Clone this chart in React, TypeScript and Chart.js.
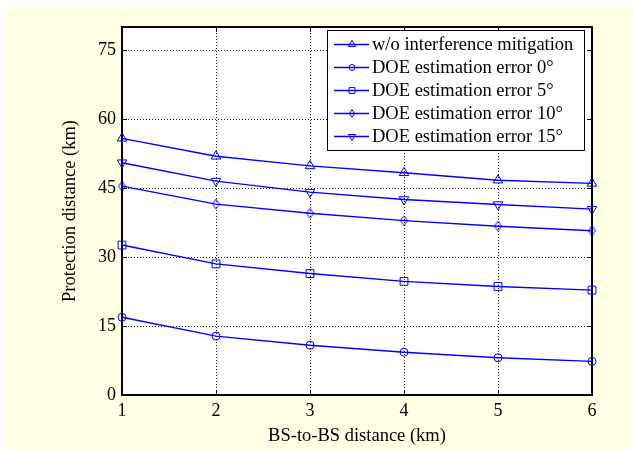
import React, { useEffect, useRef } from "react";
import { Chart, registerables } from "chart.js";

Chart.register(...registerables);

const xValues = [1, 2, 3, 4, 5, 6];
const yTicks = [0, 15, 30, 45, 60, 75];
const seriesLabels = [
  "w/o interference mitigation",
  "DOE estimation error 0°",
  "DOE estimation error 5°",
  "DOE estimation error 10°",
  "DOE estimation error 15°",
];
const noMitigation = [55.8, 51.9, 49.8, 48.3, 46.7, 46.0];
const err0 = [16.9, 12.8, 10.8, 9.3, 8.1, 7.3];
const err5 = [32.6, 28.5, 26.4, 24.7, 23.6, 22.8];
const err10 = [45.4, 41.5, 39.5, 37.9, 36.7, 35.7];
const err15 = [50.5, 46.5, 44.1, 42.5, 41.4, 40.4];

const BLUE = "#0000FF";
const FONT = "'Liberation Serif', 'Times New Roman', serif";

function diamondCanvas(w: number, h: number) {
  const c = document.createElement("canvas");
  c.width = w + 2;
  c.height = h + 2;
  const ctx = c.getContext("2d")!;
  const cx = (w + 2) / 2;
  const cy = (h + 2) / 2;
  ctx.strokeStyle = BLUE;
  ctx.lineWidth = 1;
  ctx.beginPath();
  ctx.moveTo(cx, cy - h / 2);
  ctx.lineTo(cx + w / 2, cy);
  ctx.lineTo(cx, cy + h / 2);
  ctx.lineTo(cx - w / 2, cy);
  ctx.closePath();
  ctx.stroke();
  return c;
}

const markerStyles: any[] = [
  { pointStyle: "triangle", radius: 5.5, rotation: 0 },
  { pointStyle: "circle", radius: 4, rotation: 0 },
  { pointStyle: "rect", radius: 5.5, rotation: 0 },
  { pointStyle: "diamond", radius: 5, rotation: 0 },
  { pointStyle: "triangle", radius: 5.5, rotation: 180 },
];

const allSeries = [noMitigation, err0, err5, err10, err15];

function drawMarker(ctx: any, m: any, x: number, y: number, scale: number) {
  const r = m.radius * scale;
  ctx.strokeStyle = BLUE;
  ctx.lineWidth = 1;
  ctx.beginPath();
  if (m.pointStyle === "circle") {
    ctx.arc(x, y, r, 0, Math.PI * 2);
  } else if (m.pointStyle === "rect") {
    const h = r * Math.SQRT1_2;
    ctx.rect(x - h, y - h, 2 * h, 2 * h);
  } else if (m.pointStyle === "diamond") {
    ctx.moveTo(x, y - r);
    ctx.lineTo(x + r * 0.7, y);
    ctx.lineTo(x, y + r);
    ctx.lineTo(x - r * 0.7, y);
    ctx.closePath();
  } else {
    const s = m.rotation === 180 ? -1 : 1;
    ctx.moveTo(x, y - s * r);
    ctx.lineTo(x + r * 0.866, y + s * r * 0.5);
    ctx.lineTo(x - r * 0.866, y + s * r * 0.5);
    ctx.closePath();
  }
  ctx.stroke();
}

const framePlugin = {
  id: "frame",
  beforeDraw(chart: any) {
    const ctx = chart.ctx;
    const { left, top, right, bottom } = chart.chartArea;
    ctx.save();
    ctx.fillStyle = "#FFFFFF";
    ctx.fillRect(0, 0, chart.width, chart.height);
    ctx.fillStyle = "#FFFFE3";
    ctx.fillRect(5, 7, chart.width - 5, chart.height - 7);
    ctx.fillStyle = "#FFFFFF";
    ctx.fillRect(left, top, right - left, bottom - top);
    ctx.restore();
  },
  beforeDatasetsDraw(chart: any) {
    const ctx = chart.ctx;
    const { left, top, right, bottom } = chart.chartArea;
    const xs = chart.scales.x;
    const ys = chart.scales.y;
    ctx.save();
    ctx.strokeStyle = "#000";
    ctx.lineWidth = 1;
    const tl = 5;
    ctx.beginPath();
    for (const t of yTicks) {
      const y = Math.round(ys.getPixelForValue(t)) + 0.5;
      ctx.moveTo(left, y);
      ctx.lineTo(left + tl, y);
      ctx.moveTo(right, y);
      ctx.lineTo(right - tl, y);
    }
    for (const t of xValues) {
      const x = Math.round(xs.getPixelForValue(t)) + 0.5;
      ctx.moveTo(x, bottom);
      ctx.lineTo(x, bottom - tl);
      ctx.moveTo(x, top);
      ctx.lineTo(x, top + tl);
    }
    ctx.stroke();
    ctx.lineWidth = 2;
    ctx.strokeRect(left, top, right - left, bottom - top);
    ctx.restore();
  },
  afterDatasetsDraw(chart: any) {
    const ctx = chart.ctx;
    const bx = 327, by = 30, bw = 257, bh = 120;
    ctx.save();
    ctx.fillStyle = "#FFFFFF";
    ctx.fillRect(bx, by, bw, bh);
    ctx.strokeStyle = "#000";
    ctx.lineWidth = 1;
    ctx.strokeRect(bx + 0.5, by + 0.5, bw, bh);
    ctx.font = `18.5px ${FONT}`;
    ctx.textBaseline = "middle";
    ctx.textAlign = "left";
    chart.data.datasets.forEach((ds: any, i: number) => {
      const y = by + 14.5 + i * 23;
      ctx.strokeStyle = BLUE;
      ctx.lineWidth = 1.3;
      ctx.beginPath();
      ctx.moveTo(bx + 7, y);
      ctx.lineTo(bx + 42, y);
      ctx.stroke();
      drawMarker(ctx, markerStyles[i], bx + 25, y, 0.75);
      ctx.fillStyle = "#000";
      ctx.fillText(ds.label, bx + 45, y + 1);
    });
    ctx.restore();
  },
};

export default function App() {
  const ref = useRef<HTMLCanvasElement | null>(null);
  useEffect(() => {
    if (!ref.current) return;
    const diamond = diamondCanvas(7, 10);
    const datasets = allSeries.map((vals, i) => ({
      label: seriesLabels[i],
      data: xValues.map((x, j) => ({ x, y: vals[j] })),
      borderColor: BLUE,
      borderWidth: 1.4,
      backgroundColor: "rgba(0,0,0,0)",
      pointStyle: markerStyles[i].pointStyle === "diamond" ? diamond : markerStyles[i].pointStyle,
      pointRadius: markerStyles[i].radius,
      pointRotation: markerStyles[i].rotation,
      pointBorderColor: BLUE,
      pointBackgroundColor: "rgba(0,0,0,0)",
      pointBorderWidth: 1,
      tension: 0,
      clip: false as any,
    }));
    const chart = new Chart(ref.current, {
      type: "line",
      data: { datasets },
      options: {
        responsive: false,
        animation: false,
        events: [],
        layout: { padding: { left: 0, top: 27, right: 41, bottom: 0 } },
        plugins: { legend: { display: false }, tooltip: { enabled: false } },
        scales: {
          x: {
            type: "linear",
            min: 1,
            max: 6,
            afterBuildTicks: (axis: any) => {
              axis.ticks = xValues.map((v) => ({ value: v }));
            },
            afterFit: (axis: any) => {
              axis.height = 55;
            },
            grid: {
              color: "rgba(0,0,0,0.9)",
              lineWidth: 1,
              drawTicks: false,
            },
            border: { display: false, dash: [1, 2] },
            ticks: {
              padding: 5,
              color: "#000",
              font: { family: FONT, size: 18 },
              maxRotation: 0,
            },
            title: {
              display: true,
              text: "BS-to-BS distance (km)",
              color: "#000",
              font: { family: FONT, size: 18.5 },
              padding: { top: 0, bottom: 3 },
            },
          },
          y: {
            type: "linear",
            min: 0,
            max: 80,
            afterBuildTicks: (axis: any) => {
              axis.ticks = yTicks.map((v) => ({ value: v }));
            },
            afterFit: (axis: any) => {
              axis.width = 122;
            },
            grid: {
              color: "rgba(0,0,0,0.9)",
              lineWidth: 1,
              drawTicks: false,
            },
            border: { display: false, dash: [1, 2] },
            ticks: {
              padding: 6,
              color: "#000",
              font: { family: FONT, size: 18 },
            },
            title: {
              display: true,
              text: "Protection distance (km)",
              color: "#000",
              font: { family: FONT, size: 18.5 },
              padding: { top: 59, bottom: 0 },
            },
          },
        },
      },
      plugins: [framePlugin],
    });
    return () => chart.destroy();
  }, []);
  return (
    <div style={{ position: "absolute", left: 0, top: 0, width: 633, height: 450 }}>
      <canvas ref={ref} width={633} height={450} style={{ width: 633, height: 450 }} />
    </div>
  );
}
